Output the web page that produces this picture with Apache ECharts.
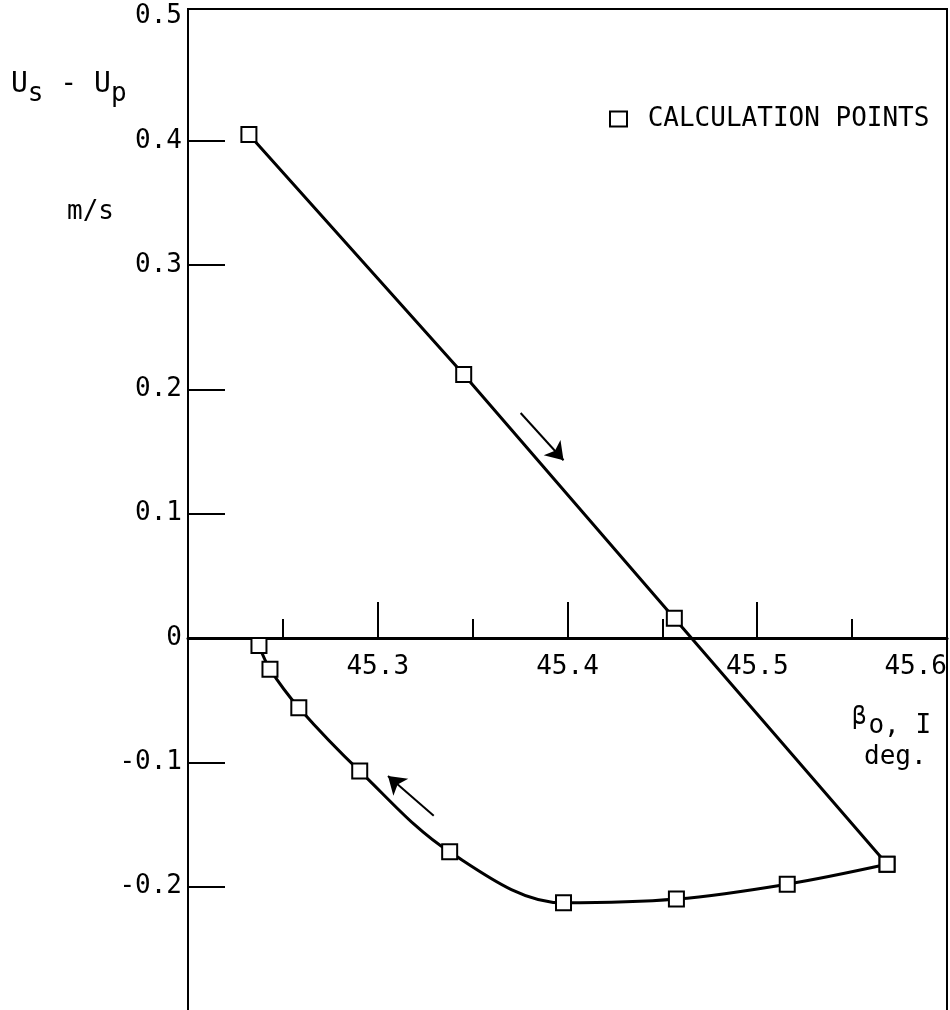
<!DOCTYPE html>
<html>
<head>
<meta charset="utf-8">
<script src="https://cdn.jsdelivr.net/npm/echarts@6/dist/echarts.min.js"></script>
<style>
  html, body { margin: 0; padding: 0; background: #fff; }
  #chart { width: 950px; height: 1010px; }
</style>
</head>
<body>
<div id="chart"></div>
<script>
// Upper branch (straight run, left to right), beta_o in deg, Us - Up in m/s
const upperX = [45.2321, 45.3453, 45.4563, 45.5684];
const upperY = [0.405, 0.212, 0.016, -0.182];

// Lower branch (smooth return, right to left)
const lowerX = [45.5684, 45.5158, 45.4574, 45.3979, 45.3379, 45.2905, 45.2584, 45.2432, 45.2374];
const lowerY = [-0.182, -0.198, -0.210, -0.213, -0.172, -0.107, -0.056, -0.025, -0.006];

// Direction arrows: tail and tip in data coordinates
const arrowTail = [[45.3753, 0.181], [45.3295, -0.143]];
const arrowTip  = [[45.3979, 0.143], [45.3054, -0.111]];

// Axis ticks and labels
const yLabelValues = [-0.2, -0.1, 0, 0.1, 0.2, 0.3, 0.4, 0.5];
const yTickValues  = [-0.2, -0.1, 0.1, 0.2, 0.3, 0.4];
const xMin = 45.2, xMax = 45.6, xStep = 0.1;
const yMin = -0.3, yMax = 0.506;

const legendName = 'CALCULATION POINTS';
const FONT = 'DejaVu Sans Mono';

const pairs = (xs, ys) => xs.map((x, i) => [x, ys[i]]);

const chart = echarts.init(document.getElementById('chart'), null, { renderer: 'canvas' });

const symbolStyle = {
  symbol: 'emptyRect',
  symbolSize: 15,
  showAllSymbol: true,
  itemStyle: { color: '#000', borderColor: '#000', borderWidth: 2 },
  lineStyle: { color: '#000', width: 3 },
  emphasis: { disabled: true },
  animation: false
};

chart.setOption({
  backgroundColor: '#fff',
  animation: false,
  textStyle: { fontFamily: FONT, color: '#000' },
  grid: {
    left: 188, right: 3, top: 9, height: 1002,
    containLabel: false,
    outerBoundsMode: 'none',
    show: true, borderColor: '#000', borderWidth: 2, backgroundColor: 'transparent'
  },
  legend: {
    data: [legendName],
    left: 604, top: 101,
    icon: 'rect',
    itemWidth: 17, itemHeight: 15,
    itemStyle: { color: '#fff', borderColor: '#000', borderWidth: 2 },
    formatter: n => ' ' + n,
    textStyle: { fontFamily: FONT, fontSize: 26, color: '#000' },
    selectedMode: false
  },
  xAxis: {
    type: 'value',
    position: 'bottom',
    min: xMin, max: xMax, interval: xStep,
    offset: 0,
    axisLine: { onZero: false, lineStyle: { color: '#000', width: 3 } },
    axisTick: { show: true, inside: true, length: 36, lineStyle: { color: '#000', width: 2 } },
    minorTick: { show: true, splitNumber: 2, length: 19, lineStyle: { color: '#000', width: 2 } },
    splitLine: { show: false },
    axisLabel: {
      showMinLabel: false,
      alignMaxLabel: 'right',
      margin: 16,
      fontFamily: FONT, fontSize: 26, color: '#000',
      formatter: v => v.toFixed(1)
    }
  },
  yAxis: {
    type: 'value',
    min: yMin, max: yMax,
    axisLine: { onZero: false, lineStyle: { color: '#000', width: 2 } },
    axisTick: { show: true, inside: true, length: 37, customValues: yTickValues, lineStyle: { color: '#000', width: 2 } },
    splitLine: { show: false },
    axisLabel: {
      customValues: yLabelValues,
      margin: 6,
      fontFamily: FONT, fontSize: 26, color: '#000',
      formatter: v => (Math.abs(v) < 1e-9 ? '0' : v.toFixed(1))
    }
  },
  graphic: [
    {
      type: 'text', left: 11, top: 71, silent: true,
      style: {
        text: 'U{s|s} - U{s|p}',
        fontFamily: FONT, fontSize: 28, fill: '#000',
        rich: {
          s: { fontFamily: FONT, fontSize: 26, padding: [19, 0, 0, 0] }
        }
      }
    },
    {
      type: 'text', left: 67, top: 199, silent: true,
      style: { text: 'm/s', fontFamily: FONT, fontSize: 26, fill: '#000' }
    },
    {
      type: 'text', left: 852, top: 706, silent: true,
      style: {
        text: '{b|β}o, I',
        fontFamily: FONT, fontSize: 26, fill: '#000',
        rich: {
          b: { fontFamily: FONT, fontSize: 24, padding: [0, 2, 16, 0] }
        }
      }
    },
    {
      type: 'text', left: 864, top: 744, silent: true,
      style: { text: 'deg.', fontFamily: FONT, fontSize: 26, fill: '#000' }
    }
  ],
  series: [
    Object.assign({
      name: legendName,
      type: 'line',
      data: pairs(upperX, upperY),
      z: 3
    }, symbolStyle),
    Object.assign({
      name: legendName,
      type: 'line',
      smooth: 0.35,
      data: pairs(lowerX, lowerY),
      z: 3,
      markLine: {
        silent: true,
        animation: false,
        symbol: ['none', 'arrow'],
        symbolSize: 17,
        label: { show: false },
        lineStyle: { color: '#000', width: 2, type: 'solid' },
        emphasis: { disabled: true },
        data: arrowTail.map((t, i) => [
          { coord: t },
          { coord: arrowTip[i] }
        ])
      }
    }, symbolStyle)
  ]
});

// Lift the x axis (line, ticks and labels) from the bottom edge up to y = 0
const zeroPx = chart.convertToPixel({ yAxisIndex: 0 }, 0);
const bottomPx = chart.convertToPixel({ yAxisIndex: 0 }, yMin);
chart.setOption({ xAxis: { offset: zeroPx - bottomPx } });
</script>
</body>
</html>
